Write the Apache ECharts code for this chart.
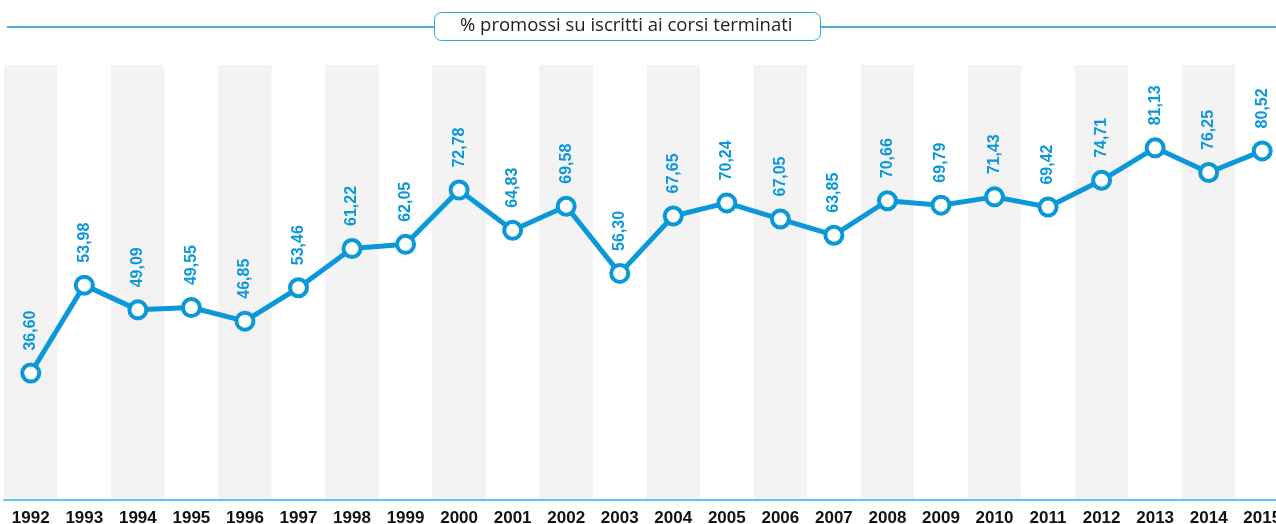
<!DOCTYPE html>
<html>
<head>
<meta charset="utf-8">
<script src="https://cdn.jsdelivr.net/npm/echarts@6/dist/echarts.min.js"></script>
<style>
  html, body { margin: 0; padding: 0; background: #fff; overflow: hidden; }
  #chart { width: 1289px; height: 524px; }
</style>
</head>
<body>
<div id="chart"></div>
<script>
// % promossi su iscritti ai corsi terminati, 1992-2015
const years = ['1992', '1993', '1994', '1995', '1996', '1997', '1998', '1999', '2000', '2001', '2002', '2003',
  '2004', '2005', '2006', '2007', '2008', '2009', '2010', '2011', '2012', '2013', '2014', '2015'];
const promossi = [36.60, 53.98, 49.09, 49.55, 46.85, 53.46, 61.22, 62.05, 72.78, 64.83, 69.58, 56.30,
  67.65, 70.24, 67.05, 63.85, 70.66, 69.79, 71.43, 69.42, 74.71, 81.13, 76.25, 80.52];
const titolo = '% promossi su iscritti ai corsi terminati';

const BLUE = '#0a98d8';
// il grafico è un po' più largo della finestra: l'ultima colonna (2015) resta tagliata
const chart = echarts.init(document.getElementById('chart'));

chart.setOption({
  animation: false,
  backgroundColor: '#fff',
  title: {
    text: titolo,
    left: 434,
    top: 12,
    padding: [4, 28, 5, 26],
    backgroundColor: '#fff',
    borderColor: '#2aa8e0',
    borderWidth: 1,
    borderRadius: 7,
    textStyle: {
      fontFamily: "'Open Sans', sans-serif", fontSize: 18.5, lineHeight: 20,
      fontWeight: 'normal', color: '#222',
    },
  },
  graphic: [{
    type: 'line', z: 0,
    shape: { x1: 7, y1: 27, x2: 1289, y2: 27 },
    style: { stroke: '#1b8fd0', lineWidth: 1.3 },
  }],
  grid: { left: 4, right: 0, top: 65, bottom: 24, outerBoundsMode: 'none' },
  xAxis: {
    type: 'category',
    data: years,
    boundaryGap: true,
    axisLine: { lineStyle: { color: '#5ec4ee', width: 2 } },
    axisTick: { show: false },
    axisLabel: {
      margin: 10, interval: 0,
      fontFamily: "'Liberation Sans', sans-serif", fontSize: 17, fontWeight: 'bold', color: '#111',
    },
    splitArea: { show: true, interval: 0, areaStyle: { color: ['#f3f3f3', '#ffffff'] } },
  },
  yAxis: {
    type: 'value', min: 11.5, max: 97.5,
    show: false, splitLine: { show: false },
  },
  series: [{
    type: 'line',
    data: promossi,
    symbol: 'circle',
    symbolSize: 17,
    lineStyle: { color: BLUE, width: 5 },
    itemStyle: { color: '#fff', borderColor: BLUE, borderWidth: 4 },
    label: {
      show: true, position: 'top', distance: 12, rotate: 90,
      align: 'left', verticalAlign: 'middle',
      fontFamily: "'Liberation Sans', sans-serif",
      fontSize: 16, fontWeight: 'bold', color: BLUE,
      formatter: (p) => p.value.toFixed(2).replace('.', ','),
    },
  }],
});
</script>
</body>
</html>
